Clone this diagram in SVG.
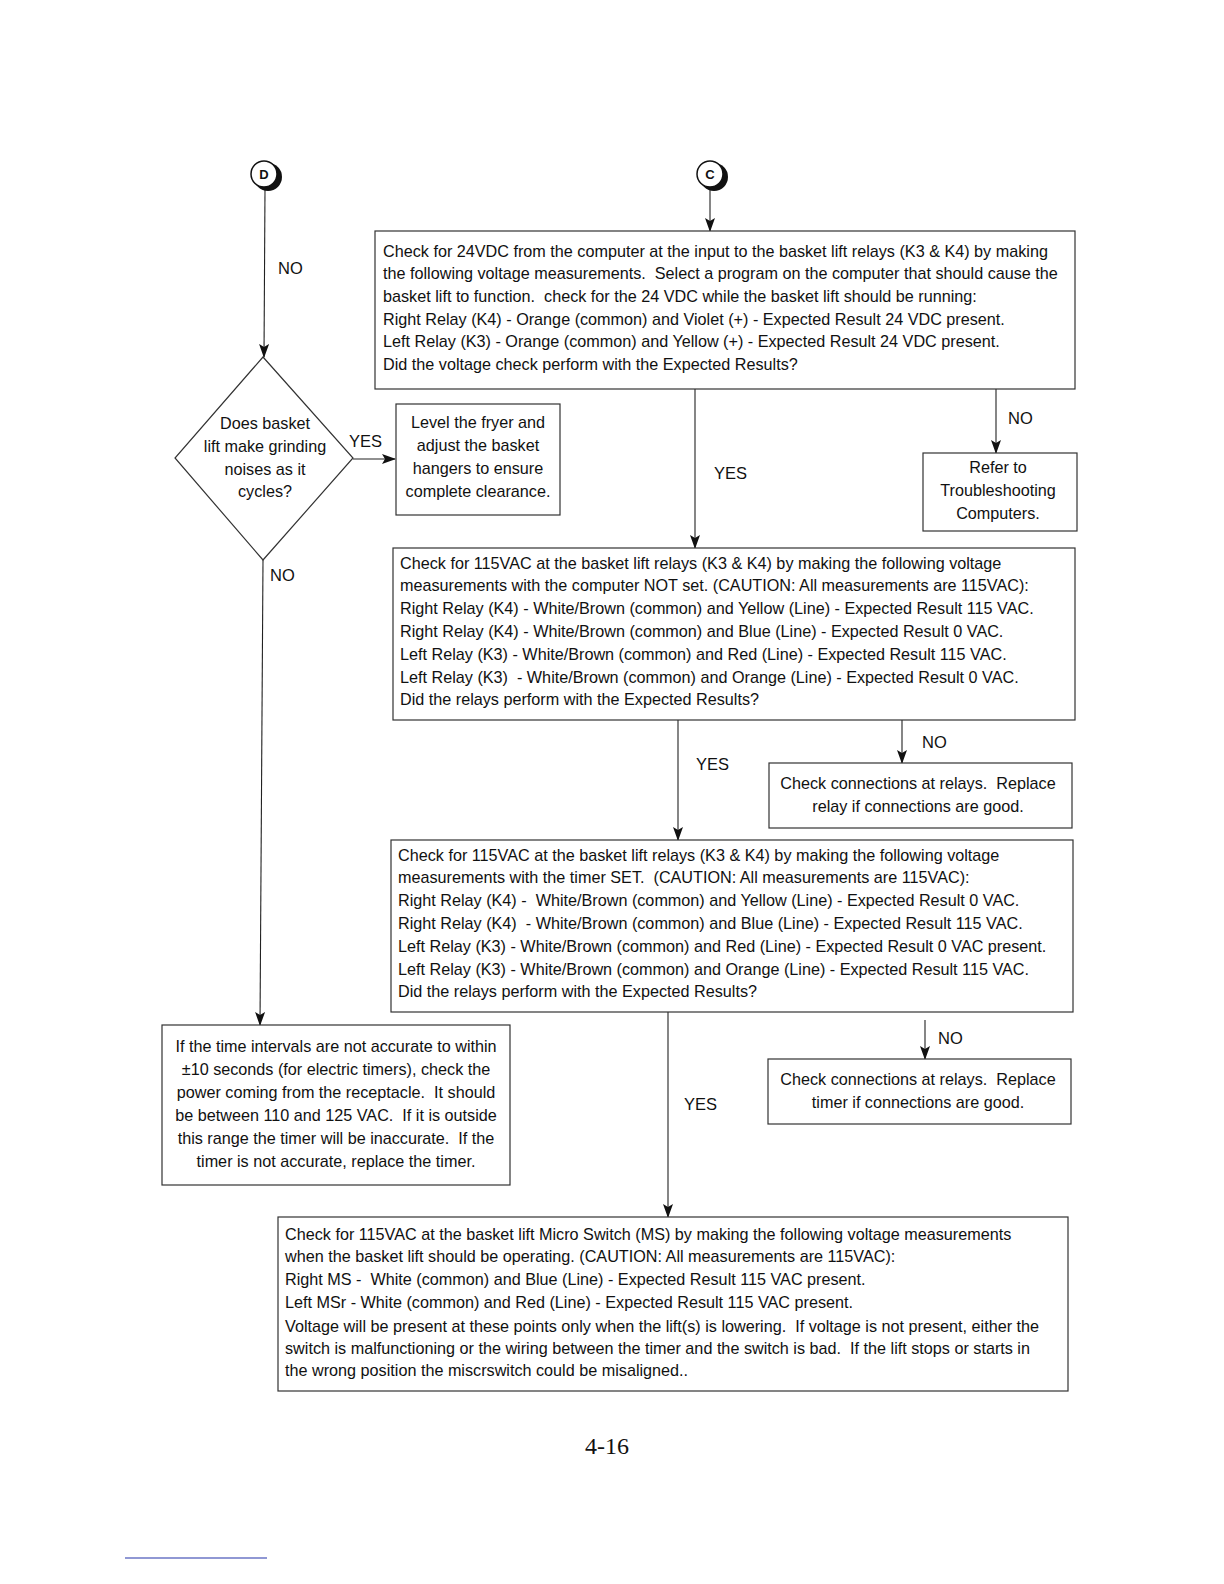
<svg xmlns="http://www.w3.org/2000/svg" width="1224" height="1584" viewBox="0 0 1224 1584">
<defs>
<marker id="arr" markerWidth="14" markerHeight="10" refX="13" refY="5" orient="auto" markerUnits="userSpaceOnUse" viewBox="0 0 14 10">
<path d="M0,0 L14,5 L0,10 L3,5 Z" fill="#111"/>
</marker>
</defs>
<style>
.box{fill:#fff;stroke:#333;stroke-width:1.2}
.t{font-family:"Liberation Sans",Arial,sans-serif;font-size:16.2px;fill:#111;white-space:pre}
.c{text-anchor:middle}
.lbl{font-family:"Liberation Sans",Arial,sans-serif;font-size:16.5px;fill:#111}
.ln{stroke:#222;stroke-width:1.1;fill:none}
.conn{fill:#fff;stroke:#111;stroke-width:1.5}
.ct{font-family:"Liberation Sans",Arial,sans-serif;font-size:13px;font-weight:bold;fill:#111;text-anchor:middle}
</style>
<rect width="1224" height="1584" fill="#fff"/>

<g id="connectors">
<line class="ln" x1="265" y1="189" x2="264" y2="357" marker-end="url(#arr)"/>
<line class="ln" x1="710" y1="189" x2="710" y2="231" marker-end="url(#arr)"/>
<line class="ln" x1="353" y1="459" x2="395" y2="459" marker-end="url(#arr)"/>
<line class="ln" x1="695" y1="389" x2="695" y2="548" marker-end="url(#arr)"/>
<line class="ln" x1="996" y1="389" x2="996" y2="453" marker-end="url(#arr)"/>
<line class="ln" x1="263" y1="560" x2="260" y2="1025" marker-end="url(#arr)"/>
<line class="ln" x1="678" y1="720" x2="678" y2="840" marker-end="url(#arr)"/>
<line class="ln" x1="902" y1="720" x2="902" y2="763" marker-end="url(#arr)"/>
<line class="ln" x1="668" y1="1012" x2="668" y2="1217" marker-end="url(#arr)"/>
<line class="ln" x1="925" y1="1020" x2="925" y2="1059" marker-end="url(#arr)"/>
<text class="lbl" x="278" y="274">NO</text>
<text class="lbl" x="349" y="447">YES</text>
<text class="lbl" x="714" y="479">YES</text>
<text class="lbl" x="1008" y="424">NO</text>
<text class="lbl" x="270" y="581">NO</text>
<text class="lbl" x="696" y="770">YES</text>
<text class="lbl" x="922" y="748">NO</text>
<text class="lbl" x="684" y="1110">YES</text>
<text class="lbl" x="938" y="1044">NO</text>
</g>

<g id="connD">
<circle cx="268" cy="177" r="14" fill="#111"/>
<circle class="conn" cx="264" cy="174" r="13"/>
<text class="ct" x="264" y="179">D</text>
</g>
<g id="connC">
<circle cx="714" cy="177" r="14" fill="#111"/>
<circle class="conn" cx="710" cy="174" r="13"/>
<text class="ct" x="710" y="179">C</text>
</g>

<g id="box24vdc">
<rect class="box" x="375" y="231" width="700" height="158"/>
<text class="t" x="383" y="257">Check for 24VDC from the computer at the input to the basket lift relays (K3 &amp; K4) by making</text>
<text class="t" x="383" y="279">the following voltage measurements.  Select a program on the computer that should cause the</text>
<text class="t" x="383" y="302">basket lift to function.  check for the 24 VDC while the basket lift should be running:</text>
<text class="t" x="383" y="325">Right Relay (K4) - Orange (common) and Violet (+) - Expected Result 24 VDC present.</text>
<text class="t" x="383" y="347">Left Relay (K3) - Orange (common) and Yellow (+) - Expected Result 24 VDC present.</text>
<text class="t" x="383" y="370">Did the voltage check perform with the Expected Results?</text>
</g>

<g id="diamond">
<polygon class="box" points="263,357 353,458 263,560 175,458"/>
<text class="t c" x="265" y="429">Does basket</text>
<text class="t c" x="265" y="452">lift make grinding</text>
<text class="t c" x="265" y="475">noises as it</text>
<text class="t c" x="265" y="497">cycles?</text>
</g>

<g id="boxLevel">
<rect class="box" x="396" y="404" width="164" height="111"/>
<text class="t c" x="478" y="428">Level the fryer and</text>
<text class="t c" x="478" y="451">adjust the basket</text>
<text class="t c" x="478" y="474">hangers to ensure</text>
<text class="t c" x="478" y="497">complete clearance.</text>
</g>

<g id="boxRefer">
<rect class="box" x="923" y="453" width="154" height="78"/>
<text class="t c" x="998" y="473">Refer to</text>
<text class="t c" x="998" y="496">Troubleshooting</text>
<text class="t c" x="998" y="519">Computers.</text>
</g>

<g id="box115notset">
<rect class="box" x="393" y="548" width="682" height="172"/>
<text class="t" x="400" y="569">Check for 115VAC at the basket lift relays (K3 &amp; K4) by making the following voltage</text>
<text class="t" x="400" y="591">measurements with the computer NOT set. (CAUTION: All measurements are 115VAC):</text>
<text class="t" x="400" y="614">Right Relay (K4) - White/Brown (common) and Yellow (Line) - Expected Result 115 VAC.</text>
<text class="t" x="400" y="637">Right Relay (K4) - White/Brown (common) and Blue (Line) - Expected Result 0 VAC.</text>
<text class="t" x="400" y="660">Left Relay (K3) - White/Brown (common) and Red (Line) - Expected Result 115 VAC.</text>
<text class="t" x="400" y="683">Left Relay (K3)  - White/Brown (common) and Orange (Line) - Expected Result 0 VAC.</text>
<text class="t" x="400" y="705">Did the relays perform with the Expected Results?</text>
</g>

<g id="boxRelay">
<rect class="box" x="769" y="763" width="303" height="65"/>
<text class="t c" x="918" y="789">Check connections at relays.  Replace</text>
<text class="t c" x="918" y="812">relay if connections are good.</text>
</g>

<g id="box115set">
<rect class="box" x="391" y="840" width="682" height="172"/>
<text class="t" x="398" y="861">Check for 115VAC at the basket lift relays (K3 &amp; K4) by making the following voltage</text>
<text class="t" x="398" y="883">measurements with the timer SET.  (CAUTION: All measurements are 115VAC):</text>
<text class="t" x="398" y="906">Right Relay (K4) -  White/Brown (common) and Yellow (Line) - Expected Result 0 VAC.</text>
<text class="t" x="398" y="929">Right Relay (K4)  - White/Brown (common) and Blue (Line) - Expected Result 115 VAC.</text>
<text class="t" x="398" y="952">Left Relay (K3) - White/Brown (common) and Red (Line) - Expected Result 0 VAC present.</text>
<text class="t" x="398" y="975">Left Relay (K3) - White/Brown (common) and Orange (Line) - Expected Result 115 VAC.</text>
<text class="t" x="398" y="997">Did the relays perform with the Expected Results?</text>
</g>

<g id="boxTimerConn">
<rect class="box" x="768" y="1059" width="303" height="65"/>
<text class="t c" x="918" y="1085">Check connections at relays.  Replace</text>
<text class="t c" x="918" y="1108">timer if connections are good.</text>
</g>

<g id="boxTimer">
<rect class="box" x="162" y="1025" width="348" height="160"/>
<text class="t c" x="336" y="1052">If the time intervals are not accurate to within</text>
<text class="t c" x="336" y="1075">±10 seconds (for electric timers), check the</text>
<text class="t c" x="336" y="1098">power coming from the receptacle.  It should</text>
<text class="t c" x="336" y="1121">be between 110 and 125 VAC.  If it is outside</text>
<text class="t c" x="336" y="1144">this range the timer will be inaccurate.  If the</text>
<text class="t c" x="336" y="1167">timer is not accurate, replace the timer.</text>
</g>

<g id="boxMS">
<rect class="box" x="278" y="1217" width="790" height="174"/>
<text class="t" x="285" y="1240">Check for 115VAC at the basket lift Micro Switch (MS) by making the following voltage measurements</text>
<text class="t" x="285" y="1262">when the basket lift should be operating. (CAUTION: All measurements are 115VAC):</text>
<text class="t" x="285" y="1285">Right MS -  White (common) and Blue (Line) - Expected Result 115 VAC present.</text>
<text class="t" x="285" y="1308">Left MSr - White (common) and Red (Line) - Expected Result 115 VAC present.</text>
<text class="t" x="285" y="1332">Voltage will be present at these points only when the lift(s) is lowering.  If voltage is not present, either the</text>
<text class="t" x="285" y="1354">switch is malfunctioning or the wiring between the timer and the switch is bad.  If the lift stops or starts in</text>
<text class="t" x="285" y="1376">the wrong position the miscrswitch could be misaligned..</text>
</g>

<text x="607" y="1454" font-family="Liberation Serif,'Times New Roman',serif" font-size="24" fill="#111" text-anchor="middle">4-16</text>
<line x1="125" y1="1558" x2="267" y2="1558" stroke="#2233aa" stroke-width="1.2"/>
</svg>
